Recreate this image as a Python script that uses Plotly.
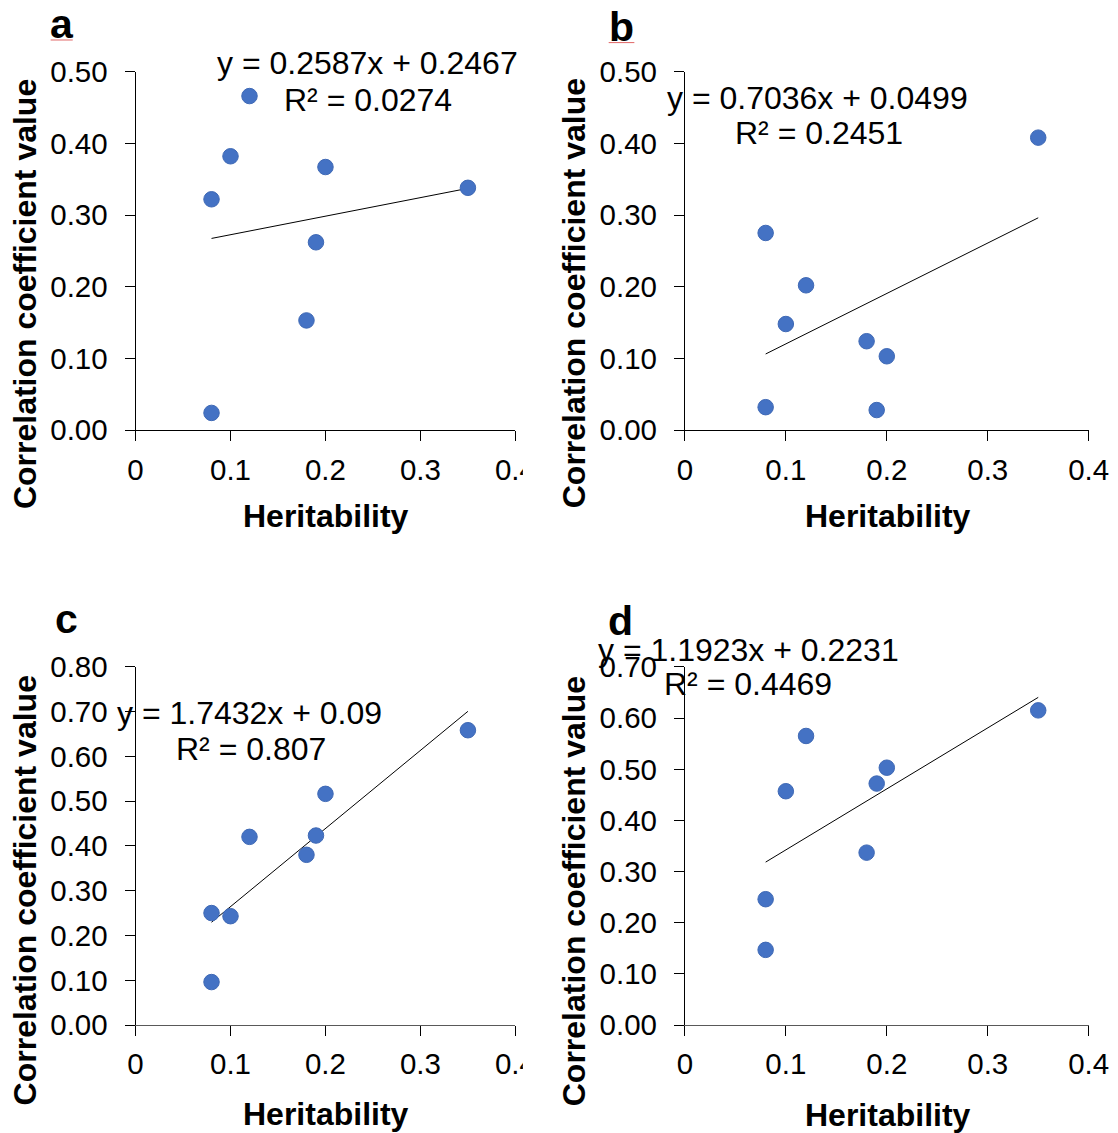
import plotly.graph_objects as go

# ---- data -------------------------------------------------------------
heritability = [0.08, 0.08, 0.10, 0.12, 0.18, 0.19, 0.20, 0.35]

corr_a = [0.322, 0.024, 0.382, 0.466, 0.153, 0.262, 0.367, 0.338]
corr_b = [0.275, 0.032, 0.148, 0.202, 0.124, 0.028, 0.103, 0.408]
corr_c = [0.250, 0.096, 0.243, 0.420, 0.380, 0.423, 0.516, 0.658]
corr_d = [0.246, 0.147, 0.457, 0.565, 0.337, 0.472, 0.503, 0.615]

# linear trend coefficients (slope, intercept) and R² for each panel
slopes = [0.2587, 0.7036, 1.7432, 1.1923]
intercepts = [0.2467, 0.0499, 0.09, 0.2231]
intercept_labels = ["0.2467", "0.0499", "0.09", "0.2231"]
r_squared = ["0.0274", "0.2451", "0.807", "0.4469"]

panel_letters = ["a", "b", "c", "d"]
y_max = [0.5, 0.5, 0.8, 0.7]
x_ticks = [0, 0.1, 0.2, 0.3, 0.4]

# ---- layout geometry --------------------------------------------------
# Positions are given in screen pixels; the figure sits at (OX, OY) on the
# page and is displayed with scale (SX, SY).
OX, OY = 8.0, 16.0
SX, SY = 0.9755, 0.9713
W, H = 1130, 1142
FONT = "Liberation Sans, Arial, Helvetica, sans-serif"
BLUE = "#4472C4"


def px(x):
    return ((x - OX) / SX) / W


def py(y):
    return 1 - ((y - OY) / SY) / H


# plot areas: (left, right, top, bottom)
areas = [
    (135.7, 516.0, 70.7, 429.2),
    (685.7, 1090.0, 70.7, 429.2),
    (135.7, 516.0, 665.7, 1024.3),
    (685.7, 1090.0, 666.0, 1024.3),
]
x_line_colors = ["black", "black", "#595959", "#595959"]
eq_pos = [(215.5, 61.9), (665.5, 97.4), (114.8, 712.0), (596.5, 648.9)]
r2_pos = [(282.8, 99.1), (733.5, 132.4), (173.8, 747.7), (662.8, 683.5)]
letter_pos = [(62.0, 23.5), (622.0, 26.0), (67.0, 618.0), (621.0, 620.0)]
ytitle_pos = [(24.9, 293.3), (574.6, 292.4), (24.9, 889.7), (574.6, 890.5)]
xtitle_pos = [(326.5, 515.6), (888.8, 515.6), (326.5, 1113.2), (888.8, 1114.0)]

datasets = [corr_a, corr_b, corr_c, corr_d]

fig = go.Figure()
annotations = []
shapes = []
layout_axes = {}

for i in range(4):
    n = "" if i == 0 else str(i + 1)
    xa, ya = "x" + n, "y" + n
    left, right, top, bottom = areas[i]

    # fitted line over the observed heritability range
    x0, x1 = min(heritability), max(heritability)
    fig.add_trace(go.Scatter(
        x=[x0, x1],
        y=[slopes[i] * x0 + intercepts[i], slopes[i] * x1 + intercepts[i]],
        mode="lines", line=dict(color="black", width=1),
        xaxis=xa, yaxis=ya, showlegend=False, hoverinfo="skip",
    ))
    fig.add_trace(go.Scatter(
        x=heritability, y=datasets[i], mode="markers",
        marker=dict(color=BLUE, size=15.5, line=dict(color="#3F69B5", width=1)),
        xaxis=xa, yaxis=ya, showlegend=False,
    ))

    common = dict(
        showline=True, linewidth=1,
        showgrid=False, zeroline=False,
        ticks="outside", ticklen=10, tickwidth=1, tickcolor="black",
        tickfont=dict(family=FONT, size=29.5, color="black"),
        fixedrange=True,
    )
    layout_axes["xaxis" + n] = dict(
        common, linecolor=x_line_colors[i],
        domain=[px(left), px(right)], anchor=ya,
        range=[0, 0.4], tickvals=x_ticks,
        ticktext=[f"{v:g}" for v in x_ticks],
        ticklabelstandoff=3,
    )
    layout_axes["yaxis" + n] = dict(
        common, linecolor="black",
        domain=[py(bottom), py(top)], anchor=xa,
        range=[0, y_max[i]], dtick=0.1, tickformat=".2f",
        ticklabelstandoff=11,
    )

    annotations.append(dict(
        x=px(eq_pos[i][0]), y=py(eq_pos[i][1]), xref="paper", yref="paper",
        text=f"y = {slopes[i]}x + {intercept_labels[i]}",
        xanchor="left", yanchor="middle", showarrow=False,
        font=dict(family=FONT, size=32, color="black"),
    ))
    annotations.append(dict(
        x=px(r2_pos[i][0]), y=py(r2_pos[i][1]), xref="paper", yref="paper",
        text=f"R² = {r_squared[i]}",
        xanchor="left", yanchor="middle", showarrow=False,
        font=dict(family=FONT, size=32, color="black"),
    ))
    annotations.append(dict(
        x=px(letter_pos[i][0]), y=py(letter_pos[i][1]), xref="paper", yref="paper",
        text=f"<b>{panel_letters[i]}</b>",
        xanchor="center", yanchor="middle", showarrow=False,
        font=dict(family=FONT, size=41, color="black"),
    ))
    annotations.append(dict(
        x=px(ytitle_pos[i][0]), y=py(ytitle_pos[i][1]), xref="paper", yref="paper",
        text="<b>Correlation coefficient value</b>", textangle=-90,
        xanchor="center", yanchor="middle", showarrow=False,
        font=dict(family=FONT, size=32, color="black"),
    ))
    annotations.append(dict(
        x=px(xtitle_pos[i][0]), y=py(xtitle_pos[i][1]), xref="paper", yref="paper",
        text="<b>Heritability</b>",
        xanchor="center", yanchor="middle", showarrow=False,
        font=dict(family=FONT, size=32, color="black"),
    ))

# the left-hand panels are trimmed at their right edge
for top_y in (450, 1045):
    shapes.append(dict(
        type="rect", xref="paper", yref="paper", layer="above",
        x0=px(523.5), x1=px(560), y0=py(top_y + 45), y1=py(top_y),
        fillcolor="white", line=dict(width=0),
    ))

# spell-check underlines beneath the letters a and b
for x0, x1, yy in ((50.7, 72.8, 39.0), (609.4, 635.1, 41.6)):
    shapes.append(dict(
        type="line", xref="paper", yref="paper",
        x0=px(x0), x1=px(x1), y0=py(yy), y1=py(yy),
        line=dict(color="#E06666", width=1),
    ))

fig.update_layout(
    width=W, height=H,
    margin=dict(l=0, r=0, t=0, b=0),
    paper_bgcolor="white", plot_bgcolor="white",
    annotations=annotations, shapes=shapes,
    showlegend=False,
    **layout_axes,
)

fig.write_html("out.html")
